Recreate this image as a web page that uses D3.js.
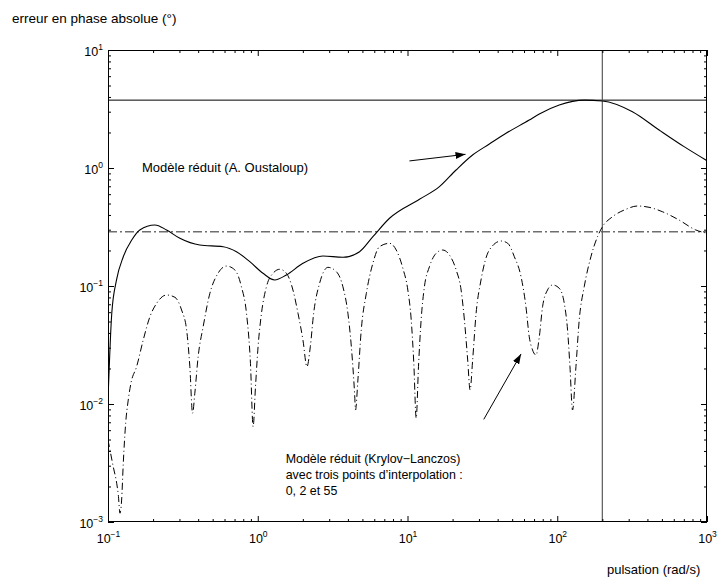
<!DOCTYPE html>
<html>
<head>
<meta charset="utf-8">
<script src="https://cdn.jsdelivr.net/npm/d3@7"></script>
<style>
  body { margin: 0; background: #fff; }
  svg text { font-family: "Liberation Sans", Arial, Helvetica, sans-serif; fill: #000; }
</style>
</head>
<body>
<svg id="chart" width="718" height="581"></svg>
<script>
// Absolute phase error (degrees) versus angular frequency (rad/s)

// Reduced model, A. Oustaloup
const freqOustaloup = [0.1, 0.106, 0.114, 0.1265, 0.144, 0.163, 0.2056, 0.246, 0.302, 0.41,
  0.587, 0.721, 0.885, 1.084, 1.298, 1.553, 2.004, 2.723, 3.705, 4.786, 5.875, 7.586,
  12.02, 16.34, 21.1, 27.2, 35.2, 45.5, 65.0, 75.9, 103.1, 151.4, 200.4, 317.7, 478.6, 703, 1000];
const errOustaloup = [0.0108, 0.059, 0.1125, 0.177, 0.245, 0.2985, 0.329, 0.2985, 0.2535, 0.2223,
  0.2153, 0.1954, 0.1607, 0.1282, 0.1125, 0.124, 0.1556, 0.1795, 0.175, 0.1954, 0.262, 0.375,
  0.543, 0.695, 0.962, 1.288, 1.596, 1.968, 2.55, 2.87, 3.42, 3.76, 3.70, 3.0, 2.10, 1.517, 1.153];

// Reduced model, Krylov-Lanczos (interpolation points 0, 2 and 55)
const freqKrylov = [0.1, 0.1031, 0.1084, 0.1143, 0.1172, 0.1202, 0.1233, 0.1265, 0.1312, 0.1365,
  0.1422, 0.1552, 0.1718, 0.1905, 0.2113, 0.246, 0.28, 0.31, 0.335, 0.352,
  0.367, 0.38, 0.4, 0.432, 0.479, 0.543, 0.618, 0.703, 0.778, 0.841,
  0.894, 0.931, 0.966, 1.005, 1.059, 1.143, 1.265, 1.402, 1.553, 1.718,
  1.857, 2.004, 2.131, 2.244, 2.362, 2.588, 2.943, 3.35, 3.704, 4.0,
  4.217, 4.433, 4.498, 4.664, 4.911, 5.31, 5.87, 6.5, 7.586, 8.41,
  9.31, 10.05, 10.59, 11.02, 11.43, 11.84, 12.33, 12.97, 14.02, 15.53,
  17.18, 19.05, 21.13, 22.8, 23.99, 25.23, 26.18, 27.23, 28.71, 30.97,
  35.2, 42.2, 46.7, 51.7, 57.3, 61.8, 65.0, 68.4, 72.1, 75.9,
  79.8, 86.1, 93.1, 103.1, 111.4, 117.2, 121.6, 126.5, 133.3, 140.2,
  151.4, 167.8, 185.8, 200.4, 233.7, 287.1, 342.8, 410.3, 503.5, 650.6,
  841, 1000];
const errKrylov = [0.00495, 0.00407, 0.00294, 0.00213, 0.00169, 0.001186, 0.001535, 0.00316, 0.00686, 0.0108,
  0.01496, 0.0207, 0.0348, 0.0549, 0.0713, 0.0839, 0.0802, 0.0626, 0.0424, 0.0207,
  0.00834, 0.01233, 0.0252, 0.0452, 0.0867, 0.1282, 0.1476, 0.1368, 0.0986, 0.0587,
  0.0221, 0.00643, 0.01402, 0.0306, 0.0587, 0.0986, 0.1282, 0.1386, 0.1282, 0.0925,
  0.0587, 0.0348, 0.0207, 0.0306, 0.0587, 0.1054, 0.1439, 0.1322, 0.0986, 0.0587,
  0.0306, 0.01233, 0.00889, 0.01596, 0.0424, 0.0867, 0.1556, 0.2153, 0.2301, 0.2018,
  0.1413, 0.0925, 0.0515, 0.0221, 0.00757, 0.0207, 0.0515, 0.0986, 0.1459, 0.1892,
  0.2018, 0.1832, 0.1368, 0.0925, 0.0515, 0.0236, 0.01315, 0.0236, 0.0587, 0.1125,
  0.2018, 0.2406, 0.2301, 0.177, 0.12, 0.0668, 0.0372, 0.0287, 0.026, 0.0372,
  0.0668, 0.0925, 0.102, 0.0957, 0.0713, 0.0424, 0.0207, 0.00889, 0.0207, 0.0515,
  0.0986, 0.177, 0.262, 0.318, 0.386, 0.4463, 0.4764, 0.4645, 0.4262, 0.3624,
  0.2985, 0.28];

// Reference levels: maximum error of each model, and the frequency marker
const maxOustaloup = 3.76;
const maxKrylov = 0.288;
const freqMarker = 200;

// Axis decades (labels are written as 10 with the exponent raised)
const xExponents = [-1, 0, 1, 2, 3];
const yExponents = [-3, -2, -1, 0, 1];

// Annotations in data units
const labelOustaloup = { text: ["Modèle réduit (A. Oustaloup)"], at: [0.1686, 0.925], size: 13 };
const labelKrylov = { text: ["Modèle réduit (Krylov−Lanczos)", "avec trois points d’interpolation :", "0, 2 et 55"], at: [1.537, 0.00314], size: 12.4 };
const arrowOustaloup = { from: [10.3, 1.148], to: [24.4, 1.306] };
const arrowKrylov = { from: [32.3, 0.00741], to: [57.3, 0.02654] };

const yTitle = "erreur en phase absolue (°)";
const xTitle = "pulsation (rad/s)";

const svg = d3.select("#chart");
const W = 718, H = 581;
const margin = { left: 108, right: 11, top: 50, bottom: 59 };
const x0 = margin.left, x1 = W - margin.right, y0 = margin.top, y1 = H - margin.bottom;

const x = d3.scaleLog().domain([0.1, 1000]).range([x0, x1]);
const y = d3.scaleLog().domain([0.001, 10]).range([y1, y0]);

const xMajor = xExponents.map(e => Math.pow(10, e));
const yMajor = yExponents.map(e => Math.pow(10, e));
const isMajor = v => Math.abs(Math.log10(v) - Math.round(Math.log10(v))) < 1e-9;
const xMinor = x.ticks().filter(v => !isMajor(v));
const yMinor = y.ticks().filter(v => !isMajor(v));

const tickTextSize = 12.5;
const expTextSize = 8.5;

// Clip for curves
svg.append("defs").append("clipPath").attr("id", "plot-clip")
  .append("rect").attr("x", x0).attr("y", y0).attr("width", x1 - x0).attr("height", y1 - y0);

const marker = svg.select("defs").append("marker")
  .attr("id", "arrowhead").attr("viewBox", "0 0 10 7")
  .attr("refX", 10).attr("refY", 3.5)
  .attr("markerUnits", "userSpaceOnUse")
  .attr("markerWidth", 10).attr("markerHeight", 7)
  .attr("orient", "auto");
marker.append("path").attr("d", "M0,0 L10,3.5 L0,7 Z").attr("fill", "#000");

const plot = svg.append("g").attr("clip-path", "url(#plot-clip)");

// Reference lines
plot.append("line")
  .attr("x1", x(0.1)).attr("x2", x(1000))
  .attr("y1", y(maxOustaloup)).attr("y2", y(maxOustaloup))
  .attr("stroke", "#000").attr("stroke-width", 1);
plot.append("line")
  .attr("x1", x(0.1)).attr("x2", x(1000))
  .attr("y1", y(maxKrylov)).attr("y2", y(maxKrylov))
  .attr("stroke", "#6e6e6e").attr("stroke-width", 1.6)
  .attr("stroke-dasharray", "9,3,2,3");
plot.append("line")
  .attr("x1", x(freqMarker)).attr("x2", x(freqMarker))
  .attr("y1", y(0.001)).attr("y2", y(10))
  .attr("stroke", "#5a5a5a").attr("stroke-width", 1.2);

// Curves
const line = d3.line().x(d => x(d[0])).y(d => y(d[1])).curve(d3.curveMonotoneX);
plot.append("path")
  .datum(d3.zip(freqOustaloup, errOustaloup))
  .attr("d", line)
  .attr("fill", "none").attr("stroke", "#000").attr("stroke-width", 1.1);
plot.append("path")
  .datum(d3.zip(freqKrylov, errKrylov))
  .attr("d", line)
  .attr("fill", "none").attr("stroke", "#000").attr("stroke-width", 1)
  .attr("stroke-dasharray", "7,3,1,3");

// Axes: major and minor ticks on all four sides, pointing inward
function tickAxis(axisFn, scale, values, size, translate) {
  const a = axisFn(scale).tickValues(values).tickSizeInner(-size).tickSizeOuter(0).tickFormat("");
  const g = svg.append("g").attr("transform", translate).call(a);
  g.select(".domain").remove();
  g.selectAll(".tick line").attr("stroke", "#000");
  return g;
}
tickAxis(d3.axisBottom, x, xMinor, 3, `translate(0,${y1})`);
tickAxis(d3.axisTop, x, xMinor, 3, `translate(0,${y0})`);
tickAxis(d3.axisTop, x, xMajor, 6, `translate(0,${y0})`);
tickAxis(d3.axisLeft, y, yMinor, 3, `translate(${x0},0)`);
tickAxis(d3.axisRight, y, yMinor, 3, `translate(${x1},0)`);
tickAxis(d3.axisRight, y, yMajor, 6, `translate(${x1},0)`);

function addExponent(sel) {
  sel.each(function (d) {
    d3.select(this).append("tspan")
      .attr("font-size", expTextSize).attr("dy", "-6")
      .text(String(Math.round(Math.log10(d))).replace("-", "−"));
  });
}

// Labelled axes
const xAxis = d3.axisBottom(x).tickValues(xMajor).tickSizeInner(-6).tickSizeOuter(0)
  .tickPadding(12).tickFormat(() => "10");
const gx = svg.append("g").attr("transform", `translate(0,${y1})`).call(xAxis);
gx.select(".domain").remove();
gx.selectAll(".tick line").attr("stroke", "#000");
gx.selectAll(".tick text")
  .attr("font-size", tickTextSize).attr("font-family", null)
  .call(addExponent);

const yAxis = d3.axisLeft(y).tickValues(yMajor).tickSizeInner(-6).tickSizeOuter(0)
  .tickPadding(5).tickFormat(() => "10");
const gy = svg.append("g").attr("transform", `translate(${x0},0)`).call(yAxis);
gy.select(".domain").remove();
gy.selectAll(".tick line").attr("stroke", "#000");
gy.selectAll(".tick text")
  .attr("font-size", tickTextSize).attr("font-family", null).attr("dy", "0.4em")
  .call(addExponent);

// Frame
svg.append("rect")
  .attr("x", x0 + 0.5).attr("y", y0 + 0.5)
  .attr("width", x1 - x0 - 1).attr("height", y1 - y0 - 1)
  .attr("fill", "none").attr("stroke", "#000").attr("stroke-width", 1);

// Annotation arrows
[arrowOustaloup, arrowKrylov].forEach(a => {
  svg.append("line")
    .attr("x1", x(a.from[0])).attr("y1", y(a.from[1]))
    .attr("x2", x(a.to[0])).attr("y2", y(a.to[1]))
    .attr("stroke", "#000").attr("stroke-width", 1)
    .attr("marker-end", "url(#arrowhead)");
});

// Annotation texts
[labelOustaloup, labelKrylov].forEach(l => {
  const t = svg.append("text")
    .attr("x", x(l.at[0])).attr("y", y(l.at[1]))
    .attr("font-size", l.size);
  l.text.forEach((s, i) => {
    t.append("tspan").attr("x", x(l.at[0])).attr("dy", i === 0 ? 0 : 15.6).text(s);
  });
});

// Axis titles
svg.append("text").attr("x", 12).attr("y", 23).attr("font-size", 13.5).text(yTitle);
svg.append("text").attr("x", 607).attr("y", 574).attr("font-size", 13).text(xTitle);
</script>
</body>
</html>
